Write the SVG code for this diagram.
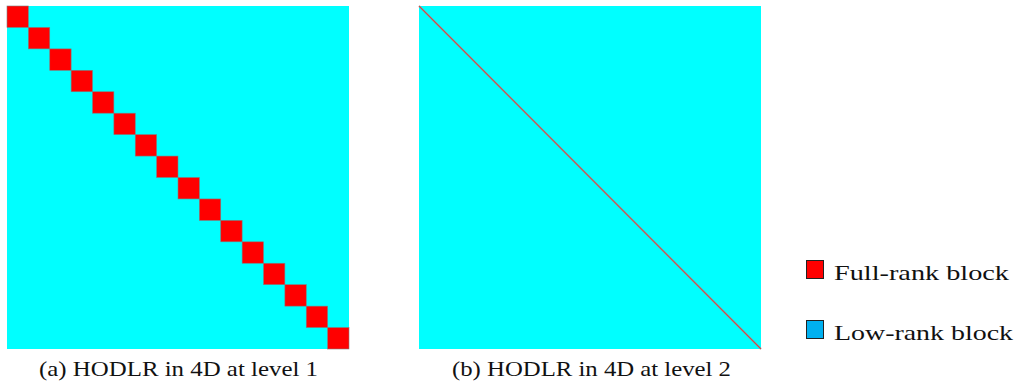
<svg xmlns="http://www.w3.org/2000/svg" width="1018" height="385" viewBox="0 0 1018 385">
<style>
.bg{fill:#00ffff}
.fr{fill:#ff0000;stroke:#7f7f7f;stroke-width:0.6}
.t{font-family:"Liberation Serif","Times New Roman",serif;font-size:21px;fill:#111111}
.lg{stroke:#222;stroke-width:1}
</style>
<rect width="1018" height="385" fill="#ffffff"/>
<g id="panel-a">
<rect class="bg" x="7" y="6" width="342" height="343"/>
<rect class="fr" x="7" y="6" width="21.375" height="21.44"/>
<rect class="fr" x="28.375" y="27.44" width="21.375" height="21.44"/>
<rect class="fr" x="49.75" y="48.88" width="21.375" height="21.44"/>
<rect class="fr" x="71.125" y="70.31" width="21.375" height="21.44"/>
<rect class="fr" x="92.5" y="91.75" width="21.375" height="21.44"/>
<rect class="fr" x="113.875" y="113.19" width="21.375" height="21.44"/>
<rect class="fr" x="135.25" y="134.63" width="21.375" height="21.44"/>
<rect class="fr" x="156.625" y="156.06" width="21.375" height="21.44"/>
<rect class="fr" x="178" y="177.5" width="21.375" height="21.44"/>
<rect class="fr" x="199.375" y="198.94" width="21.375" height="21.44"/>
<rect class="fr" x="220.75" y="220.38" width="21.375" height="21.44"/>
<rect class="fr" x="242.125" y="241.81" width="21.375" height="21.44"/>
<rect class="fr" x="263.5" y="263.25" width="21.375" height="21.44"/>
<rect class="fr" x="284.875" y="284.69" width="21.375" height="21.44"/>
<rect class="fr" x="306.25" y="306.13" width="21.375" height="21.44"/>
<rect class="fr" x="327.625" y="327.56" width="21.375" height="21.44"/>
</g>
<g id="panel-b">
<rect class="bg" x="419" y="6" width="342" height="343"/>
<line x1="419" y1="6" x2="761" y2="349" stroke="#9a8a8a" stroke-width="1.8"/>
<line x1="419" y1="6" x2="761" y2="349" stroke="#e03030" stroke-width="0.7"/>
</g>
<g id="caption-a"><text class="t" x="39" y="376" textLength="279" lengthAdjust="spacingAndGlyphs">(a) HODLR in 4D at level 1</text></g>
<g id="caption-b"><text class="t" x="452" y="376" textLength="279" lengthAdjust="spacingAndGlyphs">(b) HODLR in 4D at level 2</text></g>
<g id="legend-full">
<rect class="lg" x="806.5" y="260.5" width="17" height="18" fill="#ff0000"/>
<text class="t" x="834" y="280" textLength="175" lengthAdjust="spacingAndGlyphs">Full-rank block</text>
</g>
<g id="legend-low">
<rect class="lg" x="806.5" y="320.5" width="17" height="18" fill="#00b0f0"/>
<text class="t" x="834" y="340" textLength="179" lengthAdjust="spacingAndGlyphs">Low-rank block</text>
</g>
<g id="connectors"/>
</svg>
